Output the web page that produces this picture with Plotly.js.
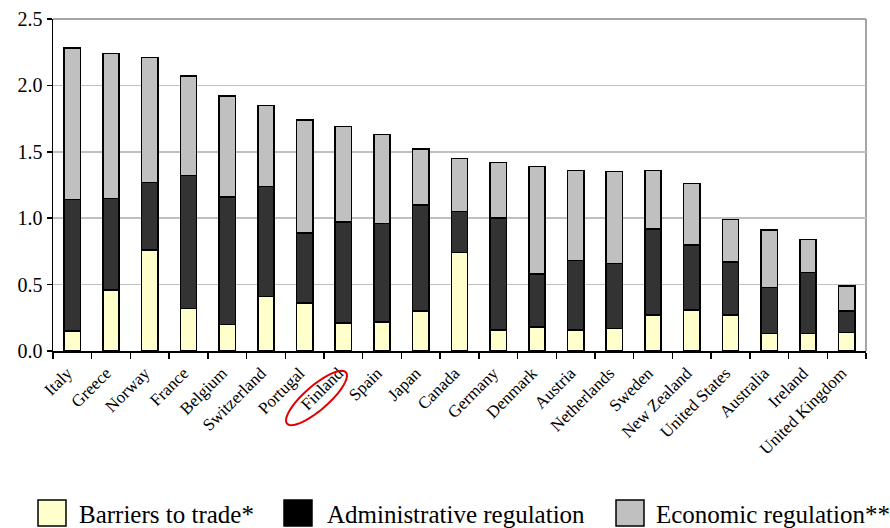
<!DOCTYPE html>
<html>
<head>
<meta charset="utf-8">
<script src="https://cdn.plot.ly/plotly-3.0.1.min.js"></script>
<style>
html,body{margin:0;padding:0;background:#fff;}
#chart{width:890px;height:528px;}
</style>
</head>
<body>
<div id="chart"></div>
<script>
const countries = ["Italy","Greece","Norway","France","Belgium","Switzerland","Portugal","Finland","Spain","Japan","Canada","Germany","Denmark","Austria","Netherlands","Sweden","New Zealand","United States","Australia","Ireland","United Kingdom"];
const barriersToTrade = [0.15,0.46,0.76,0.32,0.20,0.41,0.36,0.21,0.22,0.30,0.74,0.16,0.18,0.16,0.17,0.27,0.31,0.27,0.13,0.13,0.14];
const administrativeRegulation = [0.99,0.69,0.51,1.00,0.96,0.83,0.53,0.76,0.74,0.80,0.31,0.84,0.40,0.52,0.49,0.65,0.49,0.40,0.35,0.46,0.16];
const economicRegulation = [1.14,1.09,0.94,0.75,0.76,0.61,0.85,0.72,0.67,0.42,0.40,0.42,0.81,0.68,0.69,0.44,0.46,0.32,0.43,0.25,0.19];
const seriesNames = ["Barriers to trade*","Administrative regulation","Economic regulation**"];
const seriesColors = ["#ffffcc","#333333","#c0c0c0"];
const yTicks = [0,0.5,1.0,1.5,2.0,2.5];
const yTickText = ["0.0","0.5","1.0","1.5","2.0","2.5"];

const serif = "Liberation Serif, Times New Roman, Times, serif";
const seriesData = [barriersToTrade, administrativeRegulation, economicRegulation];
const traces = seriesData.map((vals, i) => ({
  type: "bar",
  name: seriesNames[i],
  x: countries,
  y: vals,
  marker: {color: seriesColors[i], line: {color: "#000", width: 1.5}},
  showlegend: false,
  hoverinfo: "x+y+name"
}));

const L = 53, R = 24, T = 19, B = 177, W = 890, H = 528;
const pw = W - L - R, ph = H - T - B;
const px2paper = (x, y) => [(x - L) / pw, (H - B - y) / ph];

function ellipsePath(cx, cy, a, b, angDeg) {
  const th = angDeg * Math.PI / 180;
  let d = "";
  for (let k = 0; k <= 60; k++) {
    const t = 2 * Math.PI * k / 60;
    const ex = a * Math.cos(t), ey = b * Math.sin(t);
    const x = cx + ex * Math.cos(th) - ey * Math.sin(th);
    const y = cy + ex * Math.sin(th) + ey * Math.cos(th);
    const p = px2paper(x, y);
    d += (k === 0 ? "M" : "L") + p[0].toFixed(5) + "," + p[1].toFixed(5);
  }
  return d + "Z";
}

const shapes = [
  {type: "line", xref: "paper", yref: "paper", x0: 0, x1: 1, y0: 1, y1: 1, line: {color: "#888", width: 1.5}, layer: "below"},
  {type: "line", xref: "paper", yref: "paper", x0: 1, x1: 1, y0: 0, y1: 1, line: {color: "#888", width: 1.5}, layer: "below"},
  {type: "path", xref: "paper", yref: "paper", path: ellipsePath(316.5, 398, 39, 12, -41), line: {color: "#e00000", width: 2}}
];

const legendBoxes = [[38, 77], [284, 325], [616, 654]];
const annotations = [];
legendBoxes.forEach((b, i) => {
  const p0 = px2paper(b[0], 500), p1 = px2paper(b[0] + 28, 526);
  shapes.push({type: "rect", xref: "paper", yref: "paper", x0: p0[0], x1: p1[0], y0: p1[1], y1: p0[1],
    fillcolor: seriesColors[i] === "#333333" ? "#000000" : seriesColors[i], line: {color: "#000", width: 1.5}});
  const pt = px2paper(b[1], 514);
  annotations.push({xref: "paper", yref: "paper", x: pt[0], y: pt[1], xanchor: "left", yanchor: "middle",
    text: seriesNames[i], showarrow: false, font: {family: serif, size: 25, color: "#000"}});
});

const layout = {
  width: W, height: H,
  margin: {l: L, r: R, t: T, b: B, pad: 0},
  paper_bgcolor: "#fff", plot_bgcolor: "#fff",
  barmode: "stack",
  bargap: 0.58,
  showlegend: false,
  font: {family: serif},
  xaxis: {
    type: "category",
    tickson: "boundaries",
    ticks: "outside", ticklen: 6, tickwidth: 1.5, tickcolor: "#000",
    showline: true, linecolor: "#000", linewidth: 1.5,
    showgrid: false,
    tickangle: -45,
    ticklabelshift: -5,
    ticklabelstandoff: 4,
    tickfont: {family: serif, size: 17, color: "#000"}
  },
  yaxis: {
    range: [0, 2.5],
    tickvals: yTicks, ticktext: yTickText,
    ticks: "outside", ticklen: 5, tickwidth: 1.5, tickcolor: "#000",
    showline: true, linecolor: "#000", linewidth: 1.5,
    showgrid: true, gridcolor: "#c0c0c0", gridwidth: 1.5,
    zeroline: false,
    tickfont: {family: serif, size: 20, color: "#000"}
  },
  shapes: shapes,
  annotations: annotations
};

Plotly.newPlot("chart", traces, layout, {displayModeBar: false, staticPlot: true});
</script>
</body>
</html>
